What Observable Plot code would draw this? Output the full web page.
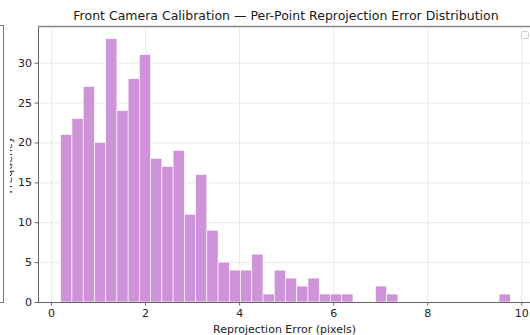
<!DOCTYPE html>
<html>
<head>
<meta charset="utf-8">
<script src="https://cdn.jsdelivr.net/npm/d3@7"></script>
<script src="https://cdn.jsdelivr.net/npm/@observablehq/plot@0.6"></script>
<style>
  html, body { margin: 0; padding: 0; background: white; }
  #wrap { position: relative; width: 530px; height: 335px; overflow: hidden; font-family: "DejaVu Sans", sans-serif; }
  #wrap > svg { position: absolute; left: 0; top: 0; }
  #title { position: absolute; left: 38px; width: 496px; top: 8px; text-align: center; font-size: 12.5px; color: #1a1a1a; white-space: nowrap; }
  #ylabclip { position: absolute; left: 9.5px; top: 120px; width: 5px; height: 90px; overflow: hidden; }
  #prevpanel { position: absolute; left: -20px; top: 25px; width: 23px; height: 276px; border: 1px solid #777; border-left: none; }
  #legend { position: absolute; left: 521px; top: 31px; width: 6px; height: 6px; border: 1px solid #d0d0d0; border-radius: 2px; background: white; }
</style>
</head>
<body>
<div id="wrap">
  <div id="prevpanel"></div>
  <div id="ylabclip"><svg width="5" height="90"><text transform="translate(2.2,45) rotate(-90)" text-anchor="middle" font-family="DejaVu Sans" font-size="11" fill="#333">Frequency</text></svg></div>
  <div id="title">Front Camera Calibration — Per-Point Reprojection Error Distribution</div>
  <div id="legend"></div>
</div>
<script>
// Histogram bin edges (pixels)
const binEdges = [0.206, 0.445, 0.684, 0.923, 1.162, 1.401, 1.640, 1.879, 2.118, 2.357,
  2.596, 2.835, 3.074, 3.313, 3.552, 3.791, 4.030, 4.269, 4.508, 4.747,
  4.986, 5.225, 5.464, 5.703, 5.942, 6.181, 6.420, 6.659, 6.898, 7.137,
  7.376, 7.615, 7.854, 8.093, 8.332, 8.571, 8.810, 9.049, 9.288, 9.527, 9.766];
// Counts per bin
const counts = [21, 23, 27, 20, 33, 24, 28, 31, 18, 17,
  19, 11, 16, 9, 5, 4, 4, 6, 1, 4,
  3, 2, 3, 1, 1, 1, 0, 0, 2, 1,
  0, 0, 0, 0, 0, 0, 0, 0, 0, 1];
const xTicks = [0, 2, 4, 6, 8, 10];
const yTicks = [0, 5, 10, 15, 20, 25, 30];
const xDomain = [-0.277, 10.185];
const yDomain = [0, 34.6];

const bins = counts.map((c, i) => ({x1: binEdges[i], x2: binEdges[i + 1], count: c})).filter(d => d.count > 0);

const spine = "#666";
const chart = Plot.plot({
  width: 530,
  height: 335,
  marginLeft: 38,
  marginRight: 0,
  marginTop: 26,
  marginBottom: 33,
  style: {fontFamily: "DejaVu Sans, sans-serif", fontSize: "11px", color: "#222", background: "transparent"},
  x: {domain: xDomain},
  y: {domain: yDomain},
  marks: [
    Plot.gridX(xTicks, {stroke: "#e6e6e6", strokeOpacity: 1, strokeWidth: 0.8}),
    Plot.gridY(yTicks, {stroke: "#e6e6e6", strokeOpacity: 1, strokeWidth: 0.8}),
    Plot.rectY(bins, {x1: "x1", x2: "x2", y1: 0, y2: "count", fill: "#CE93D8", stroke: "white", strokeWidth: 0.6}),
    Plot.ruleX([xDomain[0]], {stroke: spine, strokeWidth: 1}),
    Plot.ruleY([yDomain[0]], {stroke: spine, strokeWidth: 1}),
    Plot.ruleY([yDomain[1]], {stroke: "#888", strokeWidth: 1.5}),
    Plot.axisX(xTicks, {tickSize: 3.5, tickPadding: 3, stroke: spine, label: "Reprojection Error (pixels)", labelAnchor: "center", labelArrow: "none", labelOffset: 30, fontSize: 11}),
    Plot.axisY(yTicks, {tickSize: 3.5, tickPadding: 3, stroke: spine, label: null, fontSize: 11})
  ]
});
document.getElementById("wrap").prepend(chart);
</script>
</body>
</html>
